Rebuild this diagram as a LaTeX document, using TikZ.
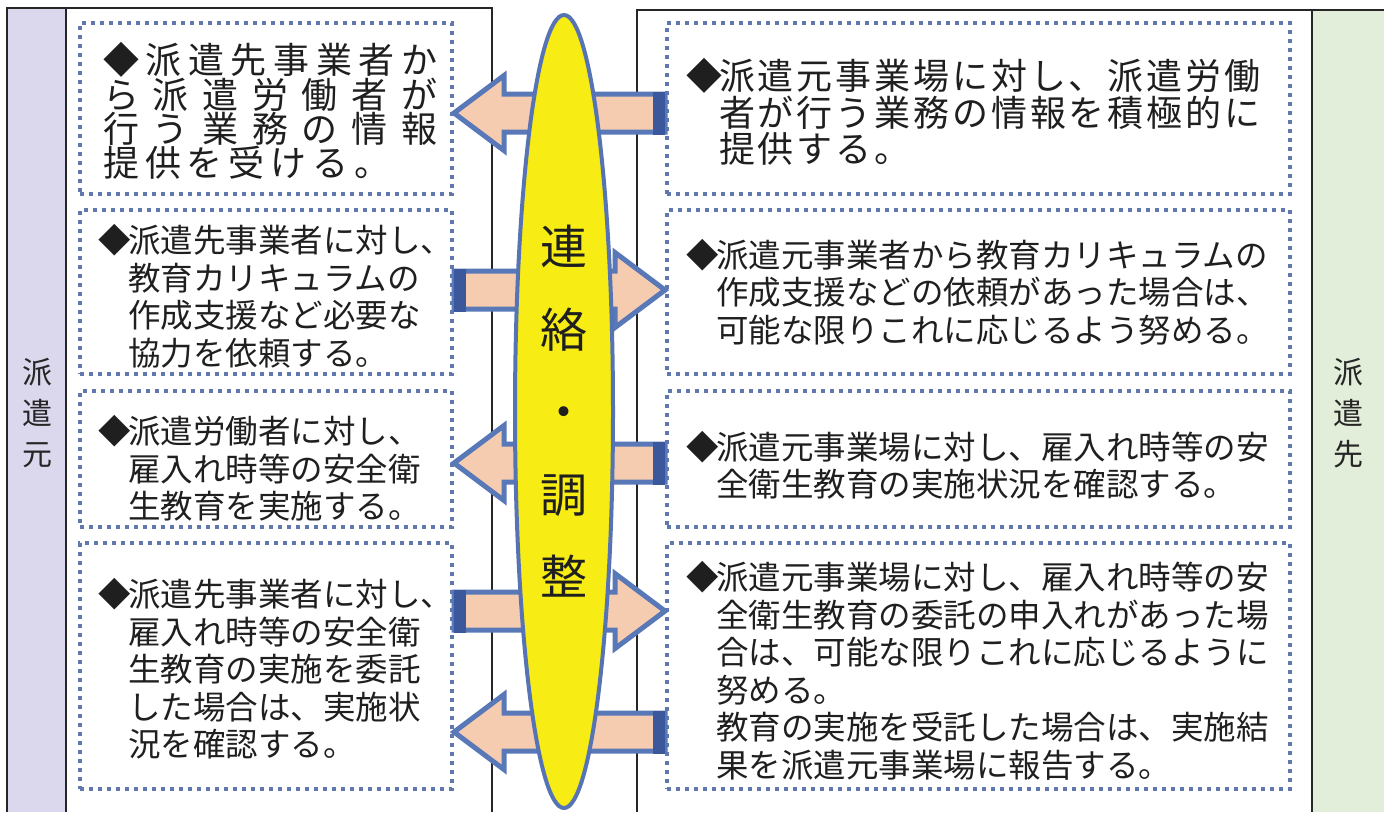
\documentclass[tikz,border=0pt]{standalone}
\usepackage{fontspec}
\usetikzlibrary{calc,shapes.geometric}
\newfontfamily\jp{Noto Sans CJK JP}
\definecolor{motobg}{RGB}{219,216,238}
\definecolor{sakibg}{RGB}{226,237,218}
\definecolor{dotblue}{RGB}{96,120,172}
\definecolor{arrowblue}{RGB}{88,120,184}
\definecolor{tailblue}{RGB}{58,88,155}
\definecolor{ellblue}{RGB}{86,116,180}
\definecolor{peach}{RGB}{246,204,176}
\definecolor{lemon}{RGB}{247,236,20}
\def\dia{\makebox[0.8em][c]{◆}}
\def\spr#1#2{\hbox to #1{\sprA#2\relax}}
\def\sprA#1#2{#1\ifx#2\relax\else\hfil\expandafter\sprA\expandafter#2\fi}
\def\blkarrow(#1)(#2){%
	\path (#1) coordinate (t) (#2) coordinate (h);
	\coordinate (b) at ($(h)!50pt!(t)$);
	\coordinate (tt) at ($(t)!6pt!(h)$);
	\filldraw[blkarrow] ($(t)!19pt!90:(h)$) -- ($(b)!19pt!90:(h)$) -- ($(b)!37.5pt!90:(h)$) -- (h)
		-- ($(b)!37.5pt!-90:(h)$) -- ($(b)!19pt!-90:(h)$) -- ($(t)!19pt!-90:(h)$) -- cycle;
	\draw[tailblue, line width=12pt] ($(tt)!21.5pt!90:(h)$) -- ($(tt)!21.5pt!-90:(h)$);}
\tikzset{
	panel/.style={draw=black!85, line width=1.6pt},
	dotbox/.style={draw=dotblue, line width=4pt, dash pattern=on 4pt off 5pt, inner sep=0pt},
	txt/.style={inner sep=0pt, align=left, text=black!88, anchor=west, font=\jp\fontsize{32.5}{37.5}\selectfont},
	sidelbl/.style={inner sep=0pt, align=center, text=black!85, font=\jp\fontsize{30}{41}\selectfont},
	blkarrow/.style={fill=peach, draw=arrowblue, line width=5pt, line join=miter},
	renraku/.style={ellipse, draw=ellblue, fill=lemon, line width=4pt, minimum width=98pt, minimum height=793pt,
		inner sep=0pt, align=center, text=black!88, font=\jp\fontsize{47}{82.5}\selectfont}
}

\begin{document}
\begin{tikzpicture}[x=1pt,y=-1pt]
		\useasboundingbox (0,0) rectangle (1384,812);
		
		%%%%% PANELS %%%%%
		\fill[motobg] (7,8) rectangle (66,812);
		\fill[sakibg] (1312,10) rectangle (1384,812);
		\draw[panel] (7,812) -- (7,8) -- (492,8) -- (492,812);
		\draw[panel] (66,8) -- (66,812);
		\draw[panel] (637,812) -- (637,10) -- (1384,10);
		\draw[panel] (1312,10) -- (1312,812);
		\node[sidelbl] (moto) at (37,413) {派\\遣\\元};
		\node[sidelbl] (saki) at (1348,413) {派\\遣\\先};
		
		%%%%% BOXES %%%%%
		\node[dotbox, minimum width=372pt, minimum height=171pt] (lbox1) at (266,108.5) {};
		\node[dotbox, minimum width=372pt, minimum height=164pt] (lbox2) at (266,292) {};
		\node[dotbox, minimum width=372pt, minimum height=136pt] (lbox3) at (266,459) {};
		\node[dotbox, minimum width=372pt, minimum height=246pt] (lbox4) at (266,666) {};
		
		\node[dotbox, minimum width=623pt, minimum height=171pt] (rbox1) at (978.5,108.5) {};
		\node[dotbox, minimum width=623pt, minimum height=164pt] (rbox2) at (978.5,292) {};
		\node[dotbox, minimum width=623pt, minimum height=136pt] (rbox3) at (978.5,459) {};
		\node[dotbox, minimum width=623pt, minimum height=246pt] (rbox4) at (978.5,666) {};
		
		%%%%% TEXTS %%%%%
		\node[txt, font=\jp\fontsize{36}{34}\selectfont] (ltxt1) at (103,111)
			{\spr{334pt}{◆派遣先事業者か}\\\spr{334pt}{ら派遣労働者が}\\\spr{334pt}{行う業務の情報}\\\spr{287pt}{提供を受ける。}};
		\node[txt] (ltxt2) at (102,296.5)
			{\dia 派遣先事業者に対し、\\\hphantom{\dia}教育カリキュラムの\\\hphantom{\dia}作成支援など必要な\\\hphantom{\dia}協力を依頼する。};
		\node[txt] (ltxt3) at (102,468.5)
			{\dia 派遣労働者に対し、\\\hphantom{\dia}雇入れ時等の安全衛\\\hphantom{\dia}生教育を実施する。};
		\node[txt] (ltxt4) at (102,669)
			{\dia 派遣先事業者に対し、\\\hphantom{\dia}雇入れ時等の安全衛\\\hphantom{\dia}生教育の実施を委託\\\hphantom{\dia}した場合は、実施状\\\hphantom{\dia}況を確認する。};
		
		\node[txt, font=\jp\fontsize{36}{36.5}\selectfont\addfontfeature{LetterSpace=8}] (rtxt1) at (690,112)
			{\dia 派遣元事業場に対し、派遣労働\\\hphantom{\dia}者が行う業務の情報を積極的に\\\hphantom{\dia}提供する。};
		\node[txt] (rtxt2) at (690,292)
			{\dia 派遣元事業者から教育カリキュラムの\\\hphantom{\dia}作成支援などの依頼があった場合は、\\\hphantom{\dia}可能な限りこれに応じるよう努める。};
		\node[txt] (rtxt3) at (690,465)
			{\dia 派遣元事業場に対し、雇入れ時等の安\\\hphantom{\dia}全衛生教育の実施状況を確認する。};
		\node[txt] (rtxt4) at (690,671)
			{\dia 派遣元事業場に対し、雇入れ時等の安\\\hphantom{\dia}全衛生教育の委託の申入れがあった場\\\hphantom{\dia}合は、可能な限りこれに応じるように\\\hphantom{\dia}努める。\\\hphantom{\dia}教育の実施を受託した場合は、実施結\\\hphantom{\dia}果を派遣元事業場に報告する。};
		
		%%%%% ARROWS %%%%%
		\blkarrow(rbox1.west |- 0,113)(lbox1.east |- 0,113)
		\blkarrow(lbox2.east |- 0,290)(rbox2.west |- 0,290)
		\blkarrow(rbox3.west |- 0,463)(lbox3.east |- 0,463)
		\blkarrow(lbox4.east |- 0,611)(rbox4.west |- 0,611)
		\blkarrow(rbox4.west |- 0,732)(lbox4.east |- 0,732)
		
		%%%%% CENTRE %%%%%
		\node[renraku] (chosei) at (564,411.5) {連\\絡\\・\\調\\整};
		
	\end{tikzpicture}
\end{document}
